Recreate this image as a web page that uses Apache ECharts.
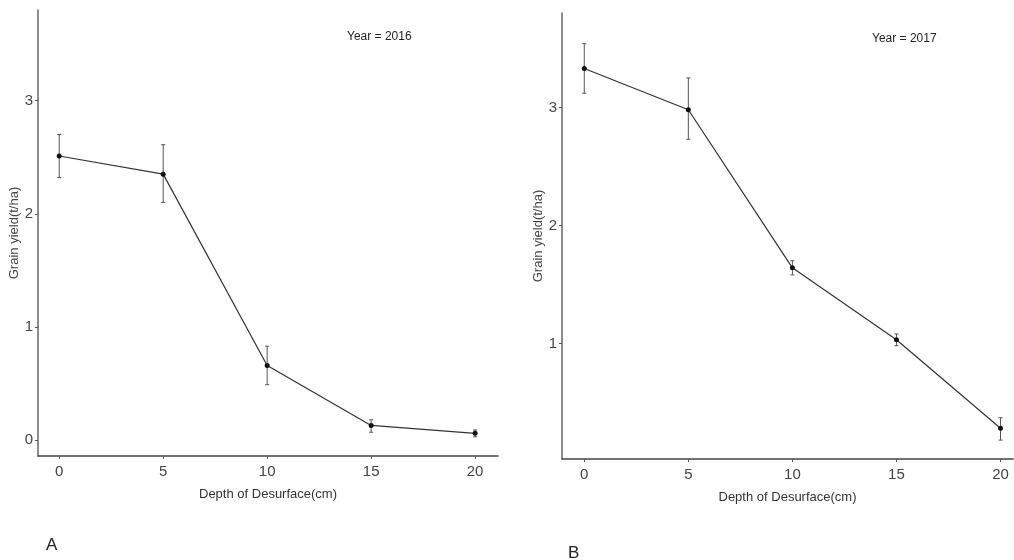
<!DOCTYPE html>
<html>
<head>
<meta charset="utf-8">
<script src="https://cdn.jsdelivr.net/npm/echarts@6/dist/echarts.min.js"></script>
<style>
html,body{margin:0;padding:0;background:#fff;}
#main{width:1014px;height:560px;}
</style>
</head>
<body>
<div id="main"></div>
<script>
// 数据
var depths = [0, 5, 10, 15, 20];
var xTicks = [0, 5, 10, 15, 20];
var yTicksA = [0, 1, 2, 3];
var yTicksB = [1, 2, 3];
var yield2016 = [2.51, 2.35, 0.66, 0.13, 0.06];
var low2016 = [2.32, 2.10, 0.49, 0.07, 0.03];
var high2016 = [2.70, 2.61, 0.83, 0.18, 0.09];
var yield2017 = [3.33, 2.98, 1.64, 1.03, 0.28];
var low2017 = [3.12, 2.73, 1.58, 0.98, 0.18];
var high2017 = [3.54, 3.25, 1.70, 1.08, 0.37];

var narrow = '"Liberation Sans Narrow", "Arial Narrow", "Liberation Sans", sans-serif';
var regular = '"Liberation Sans", Arial, sans-serif';

var myChart = echarts.init(document.getElementById('main'));

function pairs(ys) {
	var out = [];
	for (var i = 0; i < depths.length; i++) out.push([depths[i], ys[i]]);
	return out;
}
function errData(lo, hi) {
	var out = [];
	for (var i = 0; i < depths.length; i++) out.push([depths[i], lo[i], hi[i]]);
	return out;
}
// 误差线
function renderErr(params, api) {
	var x = api.value(0);
	var lo = api.coord([x, api.value(1)]);
	var hi = api.coord([x, api.value(2)]);
	var w = 2;
	var st = {stroke: '#555', lineWidth: 1};
	return {
		type: 'group',
		children: [
			{type: 'line', shape: {x1: lo[0], y1: lo[1], x2: hi[0], y2: hi[1]}, style: st},
			{type: 'line', shape: {x1: lo[0] - w, y1: lo[1], x2: lo[0] + w, y2: lo[1]}, style: st},
			{type: 'line', shape: {x1: hi[0] - w, y1: hi[1], x2: hi[0] + w, y2: hi[1]}, style: st}
		]
	};
}

function xAxisOpt(idx) {
	return {
		type: 'value', gridIndex: idx,
		min: idx == 0 ? -1.02 : -1.07, max: idx == 0 ? 21.1 : 20.6,
		name: 'Depth of Desurface(cm)', nameLocation: 'middle', nameGap: 32,
		nameTextStyle: {fontFamily: narrow, fontSize: 13, color: '#333'},
		axisLine: {show: true, onZero: false, lineStyle: {color: '#444', width: 1.5}},
		axisTick: {show: true, length: 3, customValues: xTicks, lineStyle: {color: '#555'}},
		axisLabel: {customValues: xTicks, fontFamily: narrow, fontSize: 15, color: '#444', margin: 8},
		splitLine: {show: false}
	};
}
function yAxisOpt(idx, min, max, ticks) {
	return {
		type: 'value', gridIndex: idx, min: min, max: max,
		name: 'Grain yield(t/ha)', nameLocation: 'middle', nameGap: 16,
		nameTextStyle: {fontFamily: regular, fontSize: 13, color: '#444'},
		axisLine: {show: true, onZero: false, lineStyle: {color: '#666', width: 1.5}},
		axisTick: {show: true, length: 3, customValues: ticks, lineStyle: {color: '#555'}},
		axisLabel: {customValues: ticks, fontFamily: narrow, fontSize: 15, color: '#444', margin: 5},
		splitLine: {show: false}
	};
}

var option = {
	animation: false,
	backgroundColor: '#fff',
	title: [
		{text: 'Year = 2016', left: 342, top: 26, textStyle: {fontFamily: narrow, fontSize: 12, fontWeight: 'normal', color: '#222'}},
		{text: 'Year = 2017', left: 867, top: 28, textStyle: {fontFamily: narrow, fontSize: 12, fontWeight: 'normal', color: '#222'}},
		{text: 'A', left: 41, top: 532, textStyle: {fontFamily: regular, fontSize: 17, fontWeight: 'normal', color: '#222'}},
		{text: 'B', left: 563, top: 540, textStyle: {fontFamily: regular, fontSize: 17, fontWeight: 'normal', color: '#222'}}
	],
	grid: [
		{left: 38, top: 10, width: 460, height: 446},
		{left: 562, top: 13, width: 451, height: 446}
	],
	xAxis: [xAxisOpt(0), xAxisOpt(1)],
	yAxis: [yAxisOpt(0, -0.14, 3.8, yTicksA), yAxisOpt(1, 0.02, 3.8, yTicksB)],
	series: [
		{
			type: 'custom', xAxisIndex: 0, yAxisIndex: 0,
			renderItem: renderErr, data: errData(low2016, high2016), z: 1
		},
		{
			type: 'line', xAxisIndex: 0, yAxisIndex: 0, data: pairs(yield2016),
			symbol: 'circle', symbolSize: 5,
			lineStyle: {color: '#333', width: 1.2}, itemStyle: {color: '#111'}, z: 2
		},
		{
			type: 'custom', xAxisIndex: 1, yAxisIndex: 1,
			renderItem: renderErr, data: errData(low2017, high2017), z: 1
		},
		{
			type: 'line', xAxisIndex: 1, yAxisIndex: 1, data: pairs(yield2017),
			symbol: 'circle', symbolSize: 5,
			lineStyle: {color: '#333', width: 1.2}, itemStyle: {color: '#111'}, z: 2
		}
	]
};
myChart.setOption(option);
</script>
</body>
</html>
